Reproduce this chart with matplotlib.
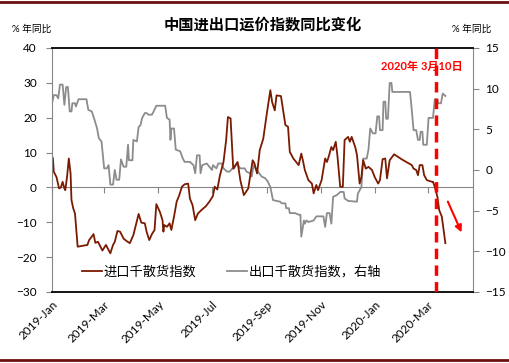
import pandas as pd
import matplotlib
matplotlib.use('Agg')
import matplotlib.pyplot as plt
import matplotlib.dates as mdates
from matplotlib.lines import Line2D

plt.rcParams['font.family'] = ['Lato', 'Noto Sans CJK SC', 'DejaVu Sans']

# days since 2019-01-01, % yoy
imp_day = [0, 1, 2, 5, 8, 10, 12, 14, 15, 17,
           19, 21, 22, 24, 26, 29, 40, 42, 47, 49,
           52, 57, 61, 66, 69, 71, 74, 77, 81, 85,
           88, 92, 98, 101, 105, 107, 110, 113, 116, 118,
           122, 125, 126, 127, 130, 133, 135, 138, 141, 144,
           147, 150, 154, 156, 159, 162, 165, 169, 174, 178,
           182, 184, 187, 190, 194, 197, 199, 202, 205, 210,
           213, 217, 222, 227, 229, 232, 235, 239, 243, 247,
           249, 252, 254, 259, 264, 267, 269, 273, 279, 282,
           284, 286, 290, 294, 296, 299, 301, 303, 305, 309,
           311, 313, 316, 318, 321, 323, 326, 329, 331, 335,
           337, 339, 343, 345, 348, 350, 352, 355, 358, 362,
           365, 369, 371, 374, 377, 379, 382, 387, 396, 407,
           409, 412, 414, 416, 419, 421, 424, 430, 431, 433,
           436, 438, 441, 445]
imp_val = [9.0, 8.3, 4.5, 3.0, -0.3, 0.0, 1.6, -0.3, -0.8, 3.0,
           8.3, 4.0, -3.6, -6.0, -7.5, -17.0, -16.5, -15.1, -13.4, -15.9,
           -15.6, -18.1, -16.5, -18.9, -16.5, -15.6, -12.5, -12.7, -14.7, -15.5,
           -16.0, -13.7, -7.6, -10.1, -10.3, -12.7, -15.1, -13.4, -12.2, -4.8,
           -7.0, -9.4, -12.7, -10.8, -11.3, -10.3, -12.2, -8.4, -4.1, -2.2,
           0.2, 0.9, 1.1, -3.2, -5.1, -9.4, -7.5, -6.5, -5.4, -4.1,
           -2.5, 0.2, -0.6, 3.5, 7.3, 13.6, 20.2, 19.8, 5.4, 7.3,
           2.1, -2.2, -0.3, 7.8, 6.9, 4.0, 10.7, 14.0, 21.2, 27.9,
           24.5, 22.1, 26.4, 26.2, 17.9, 17.4, 10.2, 8.3, 6.4, 9.7,
           7.5, 5.0, 2.1, 1.1, -1.7, 0.7, -0.8, 0.7, 2.1, 8.3,
           7.3, 8.8, 11.6, 10.7, 13.1, 8.8, 0.2, 0.2, 13.6, 14.5,
           13.1, 14.5, 11.6, 9.3, 1.1, 3.0, 7.8, 5.4, 5.9, 5.0,
           3.0, 1.1, 2.1, 8.1, 8.3, 2.6, 7.8, 9.5, 8.0, 6.4,
           5.4, 5.0, 3.5, 6.4, 6.4, 3.5, 2.1, 1.6, 1.6, 0.2,
           -2.7, -6.5, -8.4, -16.0]

exp_day = [0, 2, 5, 7, 9, 12, 14, 16, 18, 20,
           22, 23, 26, 27, 30, 39, 41, 45, 48, 51,
           53, 56, 59, 62, 64, 66, 69, 71, 73, 76,
           78, 81, 84, 86, 87, 91, 92, 96, 98, 100,
           102, 105, 107, 109, 113, 115, 118, 128, 130, 133,
           134, 135, 138, 140, 145, 148, 150, 156, 160, 162,
           164, 167, 168, 170, 175, 178, 181, 182, 186, 188,
           192, 194, 198, 201, 204, 206, 209, 213, 218, 220,
           224, 226, 228, 230, 233, 237, 241, 244, 247, 250,
           258, 260, 264, 265, 268, 269, 275, 279, 281, 282,
           285, 286, 288, 290, 296, 299, 307, 309, 311, 314,
           316, 318, 322, 326, 330, 331, 335, 345, 346, 348,
           350, 352, 356, 358, 360, 363, 366, 368, 370, 371,
           374, 375, 377, 378, 380, 382, 384, 385, 405, 407,
           409, 412, 414, 416, 417, 419, 420, 424, 426, 431,
           433, 436, 437, 440, 442, 445]
exp_val = [8.2, 9.2, 9.2, 8.8, 10.5, 10.5, 8.0, 10.2, 10.2, 7.2,
           7.2, 8.2, 8.2, 7.8, 8.7, 8.7, 7.4, 7.2, 6.2, 5.1,
           3.9, 3.5, 0.2, 0.2, 0.6, -1.8, -1.8, 0.0, -1.2, -1.2,
           1.3, 0.4, 0.4, 3.1, 1.2, 1.2, 3.7, 3.5, 5.3, 5.5,
           6.4, 7.0, 7.0, 6.8, 6.8, 7.2, 7.9, 7.9, 6.4, 6.2,
           3.7, 5.1, 5.1, 2.5, 2.3, 1.4, 1.0, 1.0, 0.6, -0.4,
           1.8, 1.8, -0.4, 0.6, 0.8, 0.4, 0.0, 0.6, 0.2, 0.8,
           0.8, 0.2, -0.2, -0.2, 0.2, 0.2, 0.8, 0.2, 0.2, -0.2,
           -0.4, -0.8, 0.6, 0.2, -0.2, -0.8, -1.0, -1.4, -2.1, -3.7,
           -3.9, -4.1, -4.1, -4.7, -4.7, -5.3, -5.3, -5.5, -5.5, -8.2,
           -6.2, -6.6, -6.2, -6.4, -6.2, -5.7, -5.7, -7.0, -5.3, -5.3,
           -6.6, -3.3, -3.1, -2.7, -2.7, -3.5, -3.8, -3.9, -2.9, -2.5,
           -2.1, 1.4, 1.4, 2.5, 5.1, 4.5, 4.5, 6.6, 6.6, 4.9,
           4.9, 8.4, 8.4, 6.3, 6.3, 10.7, 10.7, 9.6, 9.6, 7.4,
           4.9, 4.9, 3.7, 3.7, 4.7, 4.7, 3.1, 3.1, 6.4, 6.4,
           8.7, 8.7, 8.2, 8.2, 9.4, 9.1]

start = pd.Timestamp('2019-01-01')
event_date = pd.Timestamp('2020-03-10')
imp_dates = start + pd.to_timedelta(imp_day, unit='D')
exp_dates = start + pd.to_timedelta(exp_day, unit='D')

brown = '#7b1a00'
grey = '#8c8c8c'
axis_grey = '#868686'

fig = plt.figure(figsize=(5.1, 3.63), dpi=100)
ax = fig.add_axes([0.102, 0.1956, 0.825, 0.6722])
ax2 = ax.twinx()

l2, = ax2.plot(exp_dates, exp_val, color=grey, lw=1.3)
l1, = ax.plot(imp_dates, imp_val, color=brown, lw=1.3)
ax.set_zorder(ax2.get_zorder() + 1)
ax.patch.set_visible(False)

ax.set_xlim(start, start + pd.Timedelta(days=476))
ax.set_ylim(-30, 40)
ax.set_yticks(range(-30, 41, 10))
ax2.set_ylim(-15, 15)
ax2.set_yticks(range(-15, 16, 5))

ax.xaxis.set_major_locator(mdates.MonthLocator(bymonth=[1, 3, 5, 7, 9, 11]))
ax.xaxis.set_major_formatter(mdates.DateFormatter('%Y-%b'))
ax.tick_params(axis='x', length=0, pad=5, labelsize=8.5)
for lab in ax.get_xticklabels():
    lab.set_rotation(45)
    lab.set_ha('right')
    lab.set_rotation_mode('anchor')
ax.tick_params(axis='y', direction='out', length=4, color=axis_grey, labelsize=8.5, pad=7)
ax2.tick_params(axis='y', direction='out', length=4, color=axis_grey, labelsize=8.5, pad=5)

for s in ['top', 'bottom']:
    ax.spines[s].set_color('black')
    ax.spines[s].set_linewidth(1.3)
ax.spines['left'].set_color(axis_grey)
ax.spines['right'].set_visible(False)
for s in ['top', 'bottom', 'left']:
    ax2.spines[s].set_visible(False)
ax2.spines['right'].set_color(axis_grey)

# zero line of the left axis carries the month ticks
zero = ax.secondary_xaxis(30 / 70)
zero.xaxis.set_major_locator(mdates.MonthLocator(bymonth=[1, 3, 5, 7, 9, 11]))
zero.tick_params(axis='x', direction='out', length=4, color=axis_grey,
                 labelbottom=False, labeltop=False)
for s in zero.spines.values():
    s.set_color(axis_grey)

ax.axvline(event_date, color='red', lw=2.5, ls=(0, (3, 1.8)), zorder=5)
ax.text(0.879, 0.926, '2020年 3月10日', transform=ax.transAxes, color='red',
        fontsize=8, fontweight='bold', ha='center', va='center', zorder=6)
ax.annotate('', xy=(0.976, 0.234), xytext=(0.938, 0.381), xycoords='axes fraction',
            arrowprops=dict(arrowstyle='-|>', color='red', lw=1.5, mutation_scale=10))

ax.legend([l1, l2], ['进口千散货指数', '出口千散货指数，右轴'], loc='center left',
          bbox_to_anchor=(0.071, 0.086), ncol=2, frameon=False, fontsize=9.5,
          handlelength=1.5, columnspacing=2.4, handletextpad=0.1, borderpad=0,
          borderaxespad=0)

fig.text(0.515, 0.931, '中国进出口运价指数同比变化', fontsize=11, fontweight='bold',
         ha='center', va='center')
fig.text(12 / 510, 1 - 29 / 363, '% 年同比', fontsize=7, va='center')
fig.text(452 / 510, 1 - 29 / 363, '% 年同比', fontsize=7, va='center')

fig.add_artist(Line2D([0, 1], [0.995, 0.995], transform=fig.transFigure, color='#6b0f0f', lw=2))
fig.add_artist(Line2D([0, 1], [0.008, 0.008], transform=fig.transFigure, color='#6b0f0f', lw=2))

fig.savefig('out.png', dpi=100)
